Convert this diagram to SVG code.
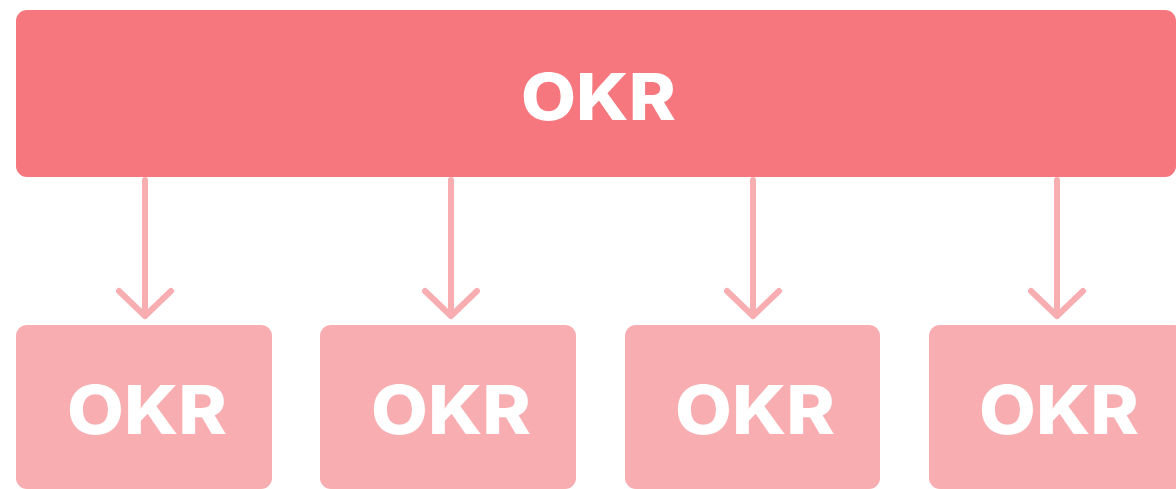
<svg xmlns="http://www.w3.org/2000/svg" width="1176" height="489" viewBox="0 0 1176 489">
  <style>
    .top { fill: #F6777D; }
    .sub { fill: #F8ADB1; }
    .lbl { fill: #FFFFFF; font-family: Inter, "Open Sans", "Liberation Sans", sans-serif; font-weight: 800; text-anchor: middle; }
    .conn { stroke: #F8ADB1; stroke-width: 6; fill: none; stroke-linecap: round; stroke-linejoin: round; }
  </style>
  <rect width="1176" height="489" fill="#FFFFFF"/>
  <g id="node-top">
    <rect class="top" x="16" y="10" width="1160" height="167" rx="11"/>
    <text class="lbl" x="598.5" y="120" font-size="65" textLength="155" lengthAdjust="spacingAndGlyphs">OKR</text>
  </g>
  <g id="connectors">
    <path class="conn" d="M145 180 V314 M119 291 L145 316 L171 291"/>
    <path class="conn" d="M451 180 V314 M425 291 L451 316 L477 291"/>
    <path class="conn" d="M753 180 V314 M727 291 L753 316 L779 291"/>
    <path class="conn" d="M1057 180 V314 M1031 291 L1057 316 L1083 291"/>
  </g>
  <g id="node-1">
    <rect class="sub" x="16" y="325" width="256" height="164" rx="11"/>
    <text class="lbl" x="147" y="434" font-size="67" textLength="160" lengthAdjust="spacingAndGlyphs">OKR</text>
  </g>
  <g id="node-2">
    <rect class="sub" x="320" y="325" width="256" height="164" rx="11"/>
    <text class="lbl" x="451" y="434" font-size="67" textLength="160" lengthAdjust="spacingAndGlyphs">OKR</text>
  </g>
  <g id="node-3">
    <rect class="sub" x="625" y="325" width="255" height="164" rx="11"/>
    <text class="lbl" x="755" y="434" font-size="67" textLength="160" lengthAdjust="spacingAndGlyphs">OKR</text>
  </g>
  <g id="node-4">
    <rect class="sub" x="929" y="325" width="256" height="164" rx="11"/>
    <text class="lbl" x="1059" y="434" font-size="67" textLength="160" lengthAdjust="spacingAndGlyphs">OKR</text>
  </g>
</svg>
